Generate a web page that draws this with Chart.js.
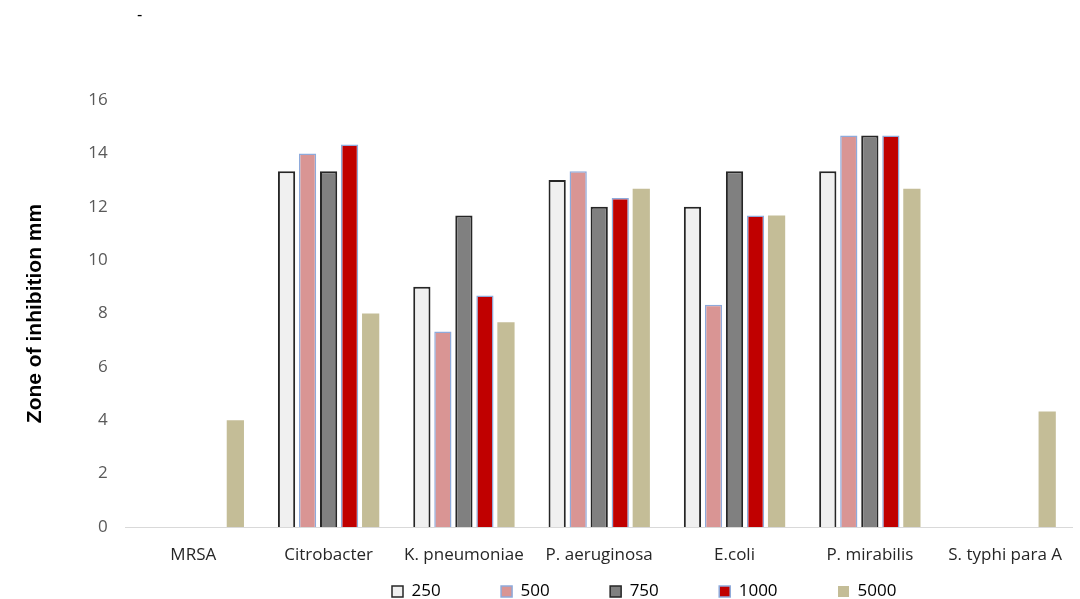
<!DOCTYPE html>
<html>
<head>
<meta charset="utf-8">
<script src="https://cdn.jsdelivr.net/npm/chart.js@4/dist/chart.umd.min.js"></script>
<style>
  html, body { margin: 0; padding: 0; background: #fff; overflow: hidden; }
  #wrap { position: relative; width: 1080px; height: 599px; }
  #dash { position: absolute; left: 137px; top: 6px; font: 16px "Liberation Sans", Arial, sans-serif; color: #000; }
</style>
</head>
<body>
<div id="wrap">
  <div id="dash">-</div>
  <canvas id="barChart" width="1080" height="599"></canvas>
</div>
<script>
const categories = ['MRSA', 'Citrobacter', 'K. pneumoniae', 'P. aeruginosa', 'E.coli', 'P. mirabilis', 'S. typhi para A'];
const seriesNames = ['250', '500', '750', '1000', '5000'];
const v250  = [0, 13.33, 9.0, 13.0, 12.0, 13.33, 0];
const v500  = [0, 14.0, 7.33, 13.33, 8.33, 14.67, 0];
const v750  = [0, 13.33, 11.67, 12.0, 13.33, 14.67, 0];
const v1000 = [0, 14.33, 8.67, 12.33, 11.67, 14.67, 0];
const v5000 = [4.0, 8.0, 7.67, 12.67, 11.67, 12.67, 4.33];
const yTicks = [0, 2, 4, 6, 8, 10, 12, 14, 16];

const fills   = ['#f0f0f0', '#d99594', '#808080', '#c00000', '#c4bd97'];
const borders = ['#262626', '#8eaadb', '#262626', '#8eaadb', '#c4bd97'];
const widths  = [2, 1.5, 2, 1.5, 0];
const allValues = [v250, v500, v750, v1000, v5000];

const textFont = '"Open Sans", "Noto Sans", sans-serif';
const legendFirstX = 392;   // left edge of the first legend box
const legendDropY = 11;     // legend sits lower than Chart.js puts it

const datasets = seriesNames.map((name, i) => ({
    label: name,
    data: allValues[i],
    backgroundColor: fills[i],
    borderColor: borders[i],
    borderWidth: widths[i],
    categoryPercentage: 0.777,
    barPercentage: 0.82
}));

// move the centred legend so it starts where the original one does
const legendShift = {
    id: 'legendShift',
    afterLayout(chart) {
        const lg = chart.legend;
        if (!lg || !lg.lineWidths) return;
        const pad = lg.options.labels.padding;
        const startX = (lg.left + pad + lg.right - lg.lineWidths[0]) / 2;
        const dx = legendFirstX - startX;
        lg.left += dx;
        lg.right += dx;
        lg.top += legendDropY;
        lg.bottom += legendDropY;
    }
};

new Chart(document.getElementById('barChart'), {
    type: 'bar',
    data: { labels: categories, datasets: datasets },
    plugins: [legendShift],
    options: {
        responsive: false,
        animation: false,
        layout: { padding: { left: 0, right: -4, top: 100, bottom: 0 } },
        plugins: {
            legend: {
                position: 'bottom',
                labels: {
                    boxWidth: 11,
                    boxHeight: 11,
                    padding: 3,
                    color: '#262626',
                    font: { family: textFont, size: 17 },
                    generateLabels(chart) {
                        return chart.data.datasets.map((ds, i) => ({
                            text: ds.label + '             ',
                            fillStyle: ds.backgroundColor,
                            strokeStyle: ds.borderWidth ? ds.borderColor : ds.backgroundColor,
                            lineWidth: ds.borderWidth ? 1.5 : 0,
                            datasetIndex: i
                        }));
                    }
                }
            },
            tooltip: { enabled: false }
        },
        scales: {
            x: {
                grid: { display: false, drawTicks: false },
                border: { display: true, color: '#d9d9d9', width: 1 },
                afterFit(axis) { axis.height = 42; },
                ticks: {
                    padding: 18,
                    color: '#262626',
                    font: { family: textFont, size: 17 },
                    maxRotation: 0,
                    autoSkip: false
                }
            },
            y: {
                min: 0,
                max: 16,
                afterBuildTicks(axis) { axis.ticks = yTicks.map(v => ({ value: v })); },
                grid: { display: false, drawTicks: false },
                border: { display: false },
                ticks: {
                    padding: 18,
                    color: '#595959',
                    font: { family: textFont, size: 17 }
                },
                title: {
                    display: true,
                    text: 'Zone of inhibition mm',
                    color: '#000',
                    padding: { top: 23, bottom: 22 },
                    font: { family: '"Liberation Sans", Arial, sans-serif', size: 21, weight: 'bold' }
                }
            }
        }
    }
});
</script>
</body>
</html>
